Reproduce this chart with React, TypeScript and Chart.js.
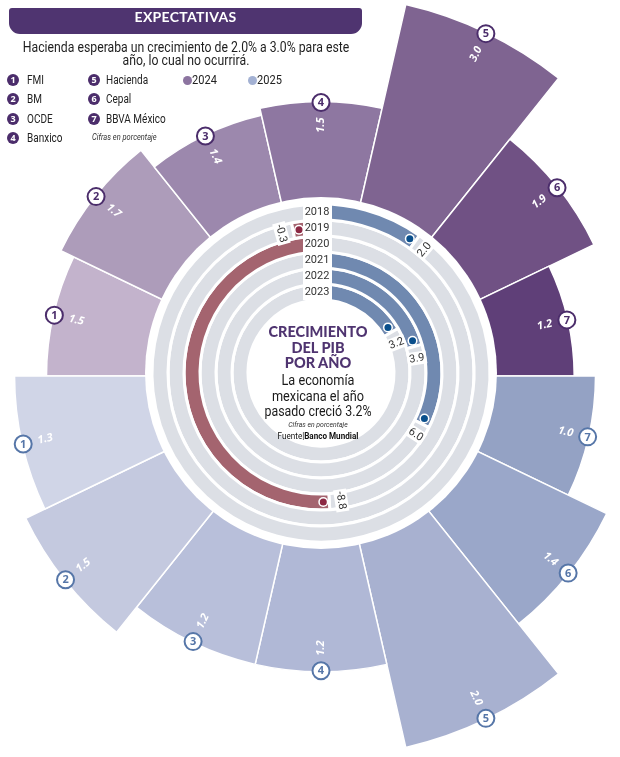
import React, { useEffect, useRef } from "react";
import { Chart, registerables } from "chart.js";
Chart.register(...registerables);

// ---------------- data ----------------
const institutions = ["FMI", "BM", "OCDE", "Banxico", "Hacienda", "Cepal", "BBVA México"];
const forecast2024 = [1.5, 1.7, 1.4, 1.5, 3.0, 1.9, 1.2];
const forecast2025 = [1.3, 1.5, 1.2, 1.2, 2.0, 1.4, 1.0];
const years = ["2018", "2019", "2020", "2021", "2022", "2023"];
const gdpGrowth = [2.0, -0.3, -8.8, 6.0, 3.9, 3.2];
const gdpLabels = ["2.0", "-0.3", "-8.8", "6.0", "3.9", "3.2"];

// ---------------- styles ----------------
const colors2024 = ["#c3b3cc", "#ad9cba", "#9c88ad", "#8e77a1", "#7f6491", "#705184", "#5f3f78"];
const colors2025 = ["#d0d5e7", "#c4c9df", "#b8bfda", "#b0b8d6", "#a8b1d0", "#9aa7c9", "#94a2c4"];
const PURPLE = "#4f3470";
const BADGE_PURPLE = "#4b2d6b";
const BADGE_BLUE = "#5676a8";
const BAR_BLUE = "#7089b0";
const BAR_RED = "#a4646f";
const TRACK = "#dcdfe5";
const DOT_BLUE = "#0a4f8c";
const DOT_RED = "#8c2843";
const SANS = "Roboto, 'Open Sans', sans-serif";
const HEAVY = "'Lato', 'Roboto', sans-serif";

// ---------------- layout ----------------
const CX = 321;
const CY = 376;
const POLAR_HALF = 400;
const POLAR_BASE = 168; // px radius of value 0
const POLAR_TOP = 381; // px radius of the largest value in each half
const RX = 321;
const RY = 373;
const RING_HALF = 190;
const RING_RADIUS = 169;
const GAUGE_FULL = 17.73; // percentage points for a full turn
const GAUGE_ZERO = -5; // degrees

function normRot(a: number) {
  const TAU = Math.PI * 2;
  let r = ((a % TAU) + TAU) % TAU;
  if (r >= 1.5 * Math.PI) r -= TAU;
  if (r >= Math.PI / 2 - 1e-6) r -= Math.PI;
  return r;
}

function polarLabelPlugin(values: number[], nums: number[], badgeColor: string) {
  return {
    id: "polarLabels",
    afterDatasetsDraw(chart: any) {
      const ctx = chart.ctx;
      const meta = chart.getDatasetMeta(0);
      meta.data.forEach((arc: any, i: number) => {
        const { x, y, startAngle, endAngle, outerRadius } = arc;
        const mid = (startAngle + endAngle) / 2;
        const c = Math.cos(mid);
        const s = Math.sin(mid);
        const text = values[i].toFixed(1);
        ctx.save();
        ctx.font = `italic bold 11px 'Open Sans', sans-serif`;
        const w = ctx.measureText(text).width;
        const rl = outerRadius - 16 - w / 2;
        ctx.translate(x + c * rl, y + s * rl);
        ctx.rotate(normRot(mid));
        ctx.fillStyle = "#ffffff";
        ctx.textAlign = "center";
        ctx.textBaseline = "middle";
        ctx.fillText(text, 0, 0);
        ctx.restore();

        const bx = x + c * (outerRadius - 1);
        const by = y + s * (outerRadius - 1);
        ctx.save();
        ctx.beginPath();
        ctx.arc(bx, by, 8.5, 0, Math.PI * 2);
        ctx.fillStyle = "#ffffff";
        ctx.fill();
        ctx.lineWidth = 2;
        ctx.strokeStyle = badgeColor;
        ctx.stroke();
        ctx.fillStyle = badgeColor;
        ctx.font = `bold 11px 'Open Sans', sans-serif`;
        ctx.textAlign = "center";
        ctx.textBaseline = "middle";
        ctx.fillText(String(nums[i]), bx, by + 0.5);
        ctx.restore();
      });
    },
  };
}

const ringPlugin = {
  id: "ringDecor",
  beforeDatasetsDraw(chart: any) {
    const ctx = chart.ctx;
    const a0 = chart.getDatasetMeta(0).data[0];
    ctx.save();
    ctx.beginPath();
    ctx.arc(a0.x, a0.y, a0.outerRadius + 7, 0, Math.PI * 2);
    ctx.fillStyle = "#ffffff";
    ctx.fill();
    ctx.restore();
  },
  afterDatasetsDraw(chart: any) {
    const ctx = chart.ctx;
    const n = years.length;
    const a0 = chart.getDatasetMeta(0).data[0];
    const aN = chart.getDatasetMeta(n - 1).data[0];
    const x = a0.x;
    const y = a0.y;
    ctx.save();
    ctx.fillStyle = "#ffffff";
    ctx.fillRect(x - 18, y - a0.outerRadius - 2, 29, a0.outerRadius - aN.innerRadius + 2);
    ctx.fillStyle = "#333333";
    ctx.font = `11px Roboto, sans-serif`;
    ctx.textAlign = "center";
    ctx.textBaseline = "middle";
    years.forEach((yr, i) => {
      const arc = chart.getDatasetMeta(i).data[0];
      const rm = (arc.innerRadius + arc.outerRadius) / 2;
      ctx.fillText(yr, x - 4, y - rm + 0.5);
    });
    gdpGrowth.forEach((v, i) => {
      const meta = chart.getDatasetMeta(i);
      const arc = meta.data[v >= 0 ? 0 : 1];
      const rm = (arc.innerRadius + arc.outerRadius) / 2;
      const dir = v >= 0 ? 1 : -1;
      const theta = v >= 0 ? arc.endAngle : arc.startAngle;
      const da = theta - (dir * 6) / rm;
      const dx = arc.x + Math.cos(da) * rm;
      const dy = arc.y + Math.sin(da) * rm;
      ctx.beginPath();
      ctx.arc(dx, dy, 5, 0, Math.PI * 2);
      ctx.fillStyle = "#ffffff";
      ctx.fill();
      ctx.beginPath();
      ctx.arc(dx, dy, 3.5, 0, Math.PI * 2);
      ctx.fillStyle = v >= 0 ? DOT_BLUE : DOT_RED;
      ctx.fill();

      const la = theta + (dir * 12) / rm;
      const lx = arc.x + Math.cos(la) * rm;
      const ly = arc.y + Math.sin(la) * rm;
      ctx.save();
      ctx.translate(lx, ly);
      ctx.rotate(normRot(la));
      ctx.font = `11px Roboto, sans-serif`;
      const w = ctx.measureText(gdpLabels[i]).width;
      ctx.fillStyle = "#ffffff";
      ctx.fillRect(-w / 2 - 2, -6.5, w + 4, 13);
      ctx.fillStyle = "#333333";
      ctx.textAlign = "center";
      ctx.textBaseline = "middle";
      ctx.fillText(gdpLabels[i], 0, 0.5);
      ctx.restore();
    });
    ctx.restore();
  },
};

function polarConfig(values: number[], colors: string[], labels: string[], startAngle: number, plugin: any) {
  const maxV = Math.max(...values);
  const unit = (POLAR_TOP - POLAR_BASE) / maxV;
  const min = -POLAR_BASE / unit;
  const max = min + POLAR_HALF / unit;
  return {
    type: "polarArea",
    data: {
      labels,
      datasets: [
        {
          data: values,
          backgroundColor: colors,
          borderColor: "#ffffff",
          borderWidth: 1.5,
          angle: 180 / values.length,
        },
      ],
    },
    options: {
      responsive: false,
      animation: false,
      layout: { padding: 0 },
      plugins: { legend: { display: false }, tooltip: { enabled: false } },
      scales: {
        r: {
          min,
          max,
          startAngle,
          ticks: { display: false },
          grid: { display: false },
          angleLines: { display: false },
          pointLabels: { display: false },
        },
      },
    },
    plugins: [plugin],
  } as any;
}

function Line({ y, h, sx, children, style }: any) {
  return (
    <div
      style={{
        position: "absolute",
        left: 218,
        width: 200,
        top: y - h / 2,
        height: h,
        lineHeight: `${h}px`,
        textAlign: "center",
        whiteSpace: "nowrap",
        transform: `scaleX(${sx ?? 1})`,
        transformOrigin: "50% 50%",
        ...style,
      }}
    >
      {children}
    </div>
  );
}

export default function App() {
  const topRef = useRef<HTMLCanvasElement>(null);
  const botRef = useRef<HTMLCanvasElement>(null);
  const ringRef = useRef<HTMLCanvasElement>(null);

  useEffect(() => {
    const nums = institutions.map((_, i) => i + 1);
    const top = new Chart(
      topRef.current!,
      polarConfig(forecast2024, colors2024, institutions, 270, polarLabelPlugin(forecast2024, nums, BADGE_PURPLE))
    );
    const rev2025 = [...forecast2025].reverse();
    const revColors = [...colors2025].reverse();
    const revLabels = [...institutions].reverse();
    const revNums = [...nums].reverse();
    const bot = new Chart(
      botRef.current!,
      polarConfig(rev2025, revColors, revLabels, 90, polarLabelPlugin(rev2025, revNums, BADGE_BLUE))
    );
    const ring = new Chart(ringRef.current!, {
      type: "doughnut",
      data: {
        labels: ["valor", "resto"],
        datasets: gdpGrowth.map((v, i) => ({
          label: years[i],
          data: v >= 0 ? [v, GAUGE_FULL - v] : [GAUGE_FULL + v, -v],
          backgroundColor: v >= 0 ? [BAR_BLUE, TRACK] : [TRACK, BAR_RED],
          borderColor: "#ffffff",
          borderWidth: 3,
        })),
      },
      options: {
        responsive: false,
        animation: false,
        radius: RING_RADIUS,
        cutout: "43.2%",
        rotation: GAUGE_ZERO,
        circumference: 360,
        layout: { padding: 0 },
        plugins: { legend: { display: false }, tooltip: { enabled: false } },
      },
      plugins: [ringPlugin],
    } as any);
    return () => {
      top.destroy();
      bot.destroy();
      ring.destroy();
    };
  }, []);

  const rows = [80, 99, 119, 138];

  return (
    <div
      style={{
        position: "absolute",
        left: 0,
        top: 0,
        width: 620,
        height: 757,
        overflow: "hidden",
        background: "#ffffff",
        fontFamily: SANS,
      }}
    >
      <canvas
        ref={topRef}
        width={POLAR_HALF * 2}
        height={POLAR_HALF * 2}
        style={{ position: "absolute", left: CX - POLAR_HALF, top: CY - POLAR_HALF, width: POLAR_HALF * 2, height: POLAR_HALF * 2 }}
      />
      <canvas
        ref={botRef}
        width={POLAR_HALF * 2}
        height={POLAR_HALF * 2}
        style={{ position: "absolute", left: CX - POLAR_HALF, top: CY - POLAR_HALF, width: POLAR_HALF * 2, height: POLAR_HALF * 2 }}
      />
      <canvas
        ref={ringRef}
        width={RING_HALF * 2}
        height={RING_HALF * 2}
        style={{ position: "absolute", left: RX - RING_HALF, top: RY - RING_HALF, width: RING_HALF * 2, height: RING_HALF * 2 }}
      />

      {/* title */}
      <div
        style={{
          position: "absolute",
          left: 9,
          top: 8,
          width: 353,
          height: 26,
          background: PURPLE,
          borderRadius: "3px 3px 11px 11px",
          color: "#fff",
          textAlign: "center",
          lineHeight: "27px",
          font: `bold 14px ${HEAVY}`,
          letterSpacing: 0.3,
        }}
      >
        EXPECTATIVAS
      </div>
      <div
        style={{
          position: "absolute",
          left: -20,
          width: 412,
          top: 41,
          textAlign: "center",
          font: `14px ${SANS}`,
          lineHeight: "13px",
          color: "#1e1e1e",
          whiteSpace: "nowrap",
          transform: "scaleX(0.875)",
          transformOrigin: "50% 50%",
        }}
      >
        Hacienda esperaba un crecimiento de 2.0% a 3.0% para este
        <br />
        año, lo cual no ocurrirá.
      </div>

      {/* legend */}
      {institutions.map((name, i) => {
        const col = i < 4 ? 0 : 1;
        const yc = rows[col === 0 ? i : i - 4];
        const bx = col === 0 ? 13 : 94;
        return (
          <React.Fragment key={name}>
            <div
              style={{
                position: "absolute",
                left: bx - 6,
                top: yc - 6,
                width: 12,
                height: 12,
                borderRadius: 6,
                background: BADGE_PURPLE,
                color: "#fff",
                font: `bold 9px 'Open Sans', sans-serif`,
                lineHeight: "12px",
                textAlign: "center",
              }}
            >
              {i + 1}
            </div>
            <div
              style={{
                position: "absolute",
                left: col === 0 ? 27 : 106,
                top: yc - 8,
                height: 16,
                lineHeight: "16px",
                font: `12.5px ${SANS}`,
                color: "#222",
                whiteSpace: "nowrap",
                transform: "scaleX(0.8)",
                transformOrigin: "0 50%",
              }}
            >
              {name}
            </div>
          </React.Fragment>
        );
      })}
      <div
        style={{
          position: "absolute",
          left: 92,
          top: 132,
          lineHeight: "12px",
          font: `italic 8.5px ${SANS}`,
          color: "#333",
          whiteSpace: "nowrap",
          transform: "scaleX(0.88)",
          transformOrigin: "0 50%",
        }}
      >
        Cifras en porcentaje
      </div>
      {[
        { t: "2024", x: 187, c: "#8c74a0" },
        { t: "2025", x: 252, c: "#a3b1d3" },
      ].map((d) => (
        <React.Fragment key={d.t}>
          <div
            style={{
              position: "absolute",
              left: d.x - 4.5,
              top: 80 - 4.5,
              width: 9,
              height: 9,
              borderRadius: 5,
              background: d.c,
            }}
          />
          <div
            style={{
              position: "absolute",
              left: d.x + 5,
              top: 72,
              lineHeight: "16px",
              font: `13px ${SANS}`,
              color: "#222",
              transform: "scaleX(0.85)",
              transformOrigin: "0 50%",
            }}
          >
            {d.t}
          </div>
        </React.Fragment>
      ))}

      {/* center text */}
      <Line y={331} h={16} style={{ font: `900 14.5px ${HEAVY}`, color: PURPLE }}>CRECIMIENTO</Line>
      <Line y={346.5} h={16} style={{ font: `900 14.5px ${HEAVY}`, color: PURPLE }}>DEL PIB</Line>
      <Line y={362} h={16} style={{ font: `900 14.5px ${HEAVY}`, color: PURPLE }}>POR AÑO</Line>
      <Line y={379} h={16} sx={0.82} style={{ font: `15.5px ${SANS}`, color: "#1a1a1a" }}>La economía</Line>
      <Line y={394.5} h={16} sx={0.82} style={{ font: `15.5px ${SANS}`, color: "#1a1a1a" }}>mexicana el año</Line>
      <Line y={410} h={16} sx={0.8} style={{ font: `15.5px ${SANS}`, color: "#1a1a1a" }}>pasado creció 3.2%</Line>
      <Line y={425} h={11} sx={0.86} style={{ font: `italic 8px ${SANS}`, color: "#333" }}>Cifras en porcentaje</Line>
      <Line y={436.5} h={11} sx={0.9} style={{ font: `9px ${SANS}`, color: "#111" }}>
        Fuente|<b>Banco Mundial</b>
      </Line>
    </div>
  );
}
